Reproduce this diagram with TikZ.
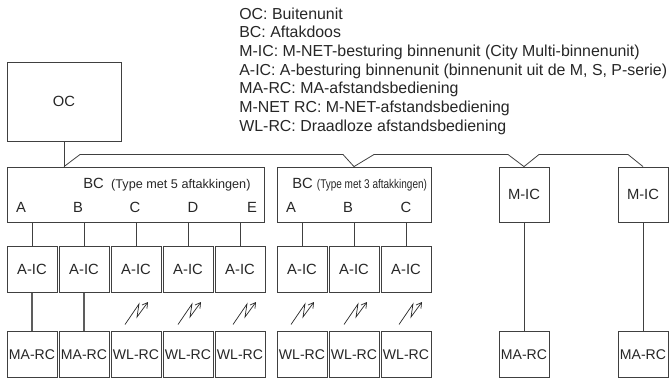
\documentclass[tikz,border=0pt]{standalone}
\usepackage{fontspec}
\setmainfont{Liberation Sans}
\usepackage{graphicx}
\usetikzlibrary{arrows.meta,positioning,calc}
\definecolor{linegray}{HTML}{404040}
\definecolor{inkgray}{HTML}{262626}

\begin{document}
\begin{tikzpicture}[
    unit/.style={draw=linegray, rectangle, inner sep=0pt, line width=0.45pt, text=inkgray, font=\fontsize{8.4}{10}\selectfont},
    ic/.style={unit, minimum width=1cm, minimum height=0.91cm},
    rc/.style={unit, minimum width=1cm, minimum height=0.91cm, font=\fontsize{8}{9}\selectfont},
    bc/.style={unit, minimum height=1.1cm},
    tag/.style={text=inkgray, inner sep=0pt, font=\fontsize{8.4}{10}\selectfont},
    wire/.style={draw=linegray, line width=0.45pt},
    lead/.style={draw=linegray!85, line width=0.8pt}
]
\useasboundingbox (0,0) rectangle (13.4,-7.6);

\node[unit, minimum width=2.28cm, minimum height=1.58cm] (oc) at (1.28,-2.03) {OC};
\node[bc, minimum width=5.14cm] (bcfive) at (2.71,-3.89) {};
\node[bc, minimum width=3.08cm] (bcthree) at (7.08,-3.89) {};
\node[ic, minimum height=1.1cm] (micone) at (10.48,-3.89) {M-IC};
\node[ic, minimum height=1.1cm] (mictwo) at (12.86,-3.89) {M-IC};

\node[tag, anchor=west] (bcfivetag) at (1.66,-3.69) {BC\hspace{0.5em}{\fontsize{7.2}{8}\selectfont (Type met 5 aftakkingen)}};
\node[tag, anchor=west] (bcthreetag) at (5.84,-3.69) {BC {\fontsize{7.2}{8}\selectfont\scalebox{0.79}[1]{(Type met 3 aftakkingen)}}};

\foreach \name/\x/\col/\lab in {a/0.64/0.42/A, b/1.68/1.56/B, c/2.72/2.70/C, d/3.76/3.86/D, e/4.80/5.04/E, f/6.04/5.82/A, g/7.08/6.96/B, h/8.12/8.12/C} {
    \node[tag] (tag\name) at (\col,-4.14) {\lab};
    \node[ic] (ic\name) at (\x,-5.39) {A-IC};
}
\foreach \name/\x/\lab in {a/0.64/MA-RC, b/1.68/MA-RC, c/2.72/WL-RC, d/3.76/WL-RC, e/4.80/WL-RC, f/6.04/WL-RC, g/7.08/WL-RC, h/8.12/WL-RC, i/10.48/MA-RC, j/12.86/MA-RC} {
    \node[rc] (rc\name) at (\x,-7.09) {\lab};
}

% bus from the outdoor unit
\coordinate (bend1) at (1.6,-3.09);
\coordinate (bend2) at (6.86,-3.09);
\coordinate (bend3) at (7.48,-3.09);
\coordinate (bend4) at (10.16,-3.09);
\coordinate (bend5) at (10.78,-3.09);
\coordinate (bend6) at (12.56,-3.09);
\draw[wire] (oc.south) -- (oc.south |- bcfive.north);
\draw[wire] (oc.south |- bcfive.north) -- (bend1) -- (bend2) -- (bcthree.north) -- (bend3) -- (bend4) -- (micone.north) -- (bend5) -- (bend6) -- (mictwo.north);

\foreach \name in {a,b,c,d,e,f,g,h} \draw[wire] (ic\name.north) -- (ic\name.north |- bcfive.south);
\draw[lead] (ica) -- (rca);
\draw[lead] (icb) -- (rcb);
\draw[wire] (micone) -- (rci);
\draw[wire] (mictwo) -- (rcj);

% wireless links
\foreach \x in {2.50,3.56,4.66,5.82,6.88,7.98} {
    \draw[draw=inkgray, line width=0.4pt, -{Straight Barb[length=3pt,width=3.5pt]}] (\x,-6.49) -- ++(0.28,0.41) -- ++(-0.04,-0.26) -- ++(0.22,0.30);
}

\node[tag, anchor=north west, align=left, font=\fontsize{9.05}{10.6}\selectfont] (legend) at (4.78,-0.15) {OC: Buitenunit\\
BC: Aftakdoos\\
M-IC: M-NET-besturing binnenunit (City Multi-binnenunit)\\
A-IC: A-besturing binnenunit (binnenunit uit de M, S, P-serie)\\
MA-RC: MA-afstandsbediening\\
M-NET RC: M-NET-afstandsbediening\\
WL-RC: Draadloze afstandsbediening};
\end{tikzpicture}
\end{document}
